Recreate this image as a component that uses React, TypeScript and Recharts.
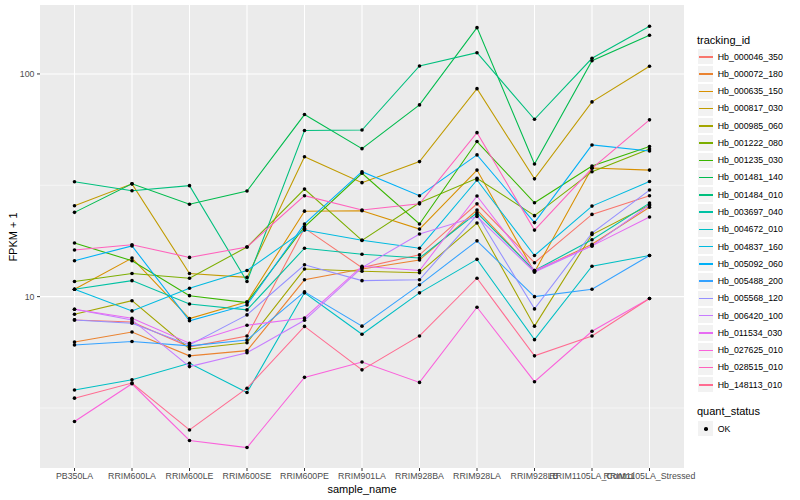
import { LineChart, Line, XAxis, YAxis, CartesianGrid } from 'recharts'

const SAMPLES = [
  'PB350LA', 'RRIM600LA', 'RRIM600LE', 'RRIM600SE', 'RRIM600PE', 'RRIM901LA',
  'RRIM928BA', 'RRIM928LA', 'RRIM928LB', 'RRIM1105LA_Control', 'RRIM1105LA_Stressed',
]

const TRACKING_IDS = [
  'Hb_000046_350', 'Hb_000072_180', 'Hb_000635_150', 'Hb_000817_030', 'Hb_000985_060',
  'Hb_001222_080', 'Hb_001235_030', 'Hb_001481_140', 'Hb_001484_010', 'Hb_003697_040',
  'Hb_004672_010', 'Hb_004837_160', 'Hb_005092_060', 'Hb_005488_200', 'Hb_005568_120',
  'Hb_006420_100', 'Hb_011534_030', 'Hb_027625_010', 'Hb_028515_010', 'Hb_148113_010',
]

// FPKM + 1, one value per sample
const hb000046_350 = [7.86, 7.7, 5.95, 6.66, 20.3, 13.5, 15.4, 26.1, 14.2, 23.4, 28.4]
const hb000072_180 = [6.26, 6.94, 5.42, 5.72, 11.9, 13.3, 14.6, 24.5, 13.0, 17.2, 25.2]
const hb000635_150 = [10.8, 14.9, 7.97, 9.49, 24.2, 24.3, 20.1, 37.0, 12.9, 37.8, 37.0]
const hb000817_030 = [25.6, 32.1, 12.7, 12.2, 42.5, 32.5, 40.4, 85.9, 33.8, 74.9, 108.3]
const hb000985_060 = [8.34, 9.59, 5.82, 6.21, 13.3, 13.0, 12.8, 21.4, 7.37, 19.0, 25.8]
const hb001222_080 = [11.7, 12.7, 12.1, 16.7, 30.4, 17.9, 26.4, 34.0, 23.1, 36.4, 46.0]
const hb001235_030 = [17.4, 14.5, 10.1, 9.4, 20.6, 35.8, 21.2, 49.7, 26.4, 38.6, 47.2]
const hb001481_140 = [23.9, 32.1, 26.0, 29.8, 65.7, 46.2, 72.6, 161.4, 39.4, 114.7, 149.2]
const hb001484_010 = [32.8, 29.9, 31.5, 11.7, 55.7, 56.0, 108.6, 124.6, 62.6, 117.6, 163.7]
const hb003697_040 = [10.8, 11.8, 9.27, 8.72, 16.5, 15.5, 14.9, 23.8, 13.1, 18.0, 26.3]
const hb004672_010 = [3.81, 4.23, 5.02, 3.71, 10.4, 6.78, 10.4, 14.7, 6.41, 13.7, 15.3]
const hb004837_160 = [10.8, 8.63, 10.9, 13.1, 19.9, 17.9, 16.5, 33.4, 15.3, 25.5, 32.9]
const hb005092_060 = [14.5, 16.9, 7.79, 9.18, 21.2, 36.4, 28.4, 43.3, 21.5, 48.0, 45.1]
const hb005488_200 = [6.07, 6.29, 6.01, 6.39, 10.5, 7.37, 11.3, 17.8, 10.0, 10.8, 15.3]
const hb005568_120 = [7.86, 7.6, 6.07, 8.28, 13.9, 11.8, 11.9, 23.3, 8.81, 19.3, 30.1]
const hb006420_100 = [8.78, 7.86, 4.85, 5.6, 7.83, 13.5, 19.1, 22.9, 12.9, 16.9, 25.8]
const hb011534_030 = [8.78, 7.99, 6.18, 7.44, 8.02, 13.7, 13.1, 28.3, 13.1, 16.9, 22.8]
const hb027625_010 = [2.75, 4.06, 2.26, 2.1, 4.34, 5.09, 4.12, 8.96, 4.15, 6.99, 9.81]
const hb028515_010 = [16.2, 17.1, 15.0, 16.7, 28.4, 24.5, 26.1, 54.5, 19.9, 37.7, 62.2]
const hb148113_010 = [3.5, 4.09, 2.52, 3.88, 7.35, 4.69, 6.66, 12.1, 5.42, 6.66, 9.81]

const SERIES_VALUES = [
  hb000046_350, hb000072_180, hb000635_150, hb000817_030, hb000985_060,
  hb001222_080, hb001235_030, hb001481_140, hb001484_010, hb003697_040,
  hb004672_010, hb004837_160, hb005092_060, hb005488_200, hb005568_120,
  hb006420_100, hb011534_030, hb027625_010, hb028515_010, hb148113_010,
]

// ggplot hue palette, 20 levels
const COLORS = [
  '#F8766D', '#EA8331', '#D89000', '#C09B00', '#A3A500', '#7CAE00', '#39B600',
  '#00BB4E', '#00BF7D', '#00C1A3', '#00BFC4', '#00BAE0', '#00B0F6', '#35A2FF',
  '#9590FF', '#C77CFF', '#E76BF3', '#FA62DB', '#FF62BC', '#FF6C91',
]

const Y_TICKS = [10, 100]
const Y_MINOR = [3.1623, 31.623]
const STATUS = ['OK']

const data = SAMPLES.map((sample, i) => {
  const row: Record<string, string | number> = { sample }
  TRACKING_IDS.forEach((id, k) => {
    row[id] = SERIES_VALUES[k][i]
  })
  return row
})

const FONT = '"Liberation Sans", Arial, Helvetica, sans-serif'
const KEY = 17.28

function BlackDot(props: any) {
  const { cx, cy } = props
  if (cx == null || cy == null) return null
  return <circle cx={cx} cy={cy} r={1.8} fill="#000000" />
}

export default function App() {
  return (
    <div style={{ position: 'absolute', left: 0, top: 0, width: 800, height: 500, background: '#fff', fontFamily: FONT }}>
      <LineChart width={800} height={500} data={data} margin={{ top: 5, right: 116, bottom: 0, left: 0 }}>
        <CartesianGrid
          fill="#EBEBEB"
          fillOpacity={1}
          stroke="#FFFFFF"
          strokeWidth={1.07}
          horizontalValues={Y_TICKS}
          verticalValues={SAMPLES}
        />
        <CartesianGrid stroke="#FFFFFF" strokeWidth={0.53} horizontalValues={Y_MINOR} vertical={false} />
        <XAxis
          dataKey="sample"
          interval={0}
          padding={{ left: 34.5, right: 34.5 }}
          axisLine={false}
          tickLine={{ stroke: '#333333' }}
          tickSize={3}
          tickMargin={2}
          height={32}
          tick={{ fontSize: 8.8, fill: '#4D4D4D', fontFamily: FONT }}
        />
        <YAxis
          scale="log"
          domain={[1.7, 204]}
          allowDataOverflow
          ticks={Y_TICKS}
          width={40}
          axisLine={false}
          tickLine={{ stroke: '#333333' }}
          tickSize={3}
          tickMargin={2.5}
          tick={{ fontSize: 8.8, fill: '#4D4D4D', fontFamily: FONT }}
        />
        {TRACKING_IDS.map((id, k) => (
          <Line
            key={id}
            type="linear"
            dataKey={id}
            stroke={COLORS[k]}
            strokeWidth={1.07}
            dot={false}
            activeDot={false}
            isAnimationActive={false}
          />
        ))}
        {TRACKING_IDS.map((id) => (
          <Line
            key={id + '-pts'}
            type="linear"
            dataKey={id}
            stroke="none"
            dot={<BlackDot />}
            activeDot={false}
            legendType="none"
            isAnimationActive={false}
          />
        ))}
      </LineChart>

      {/* axis titles */}
      <div style={{ position: 'absolute', left: 362, top: 488.5, transform: 'translate(-50%, -50%)', fontSize: 11, color: '#000', whiteSpace: 'nowrap' }}>
        sample_name
      </div>
      <div style={{ position: 'absolute', left: 12.5, top: 236.5, transform: 'translate(-50%, -50%) rotate(-90deg)', fontSize: 11, color: '#000', whiteSpace: 'nowrap' }}>
        FPKM + 1
      </div>

      {/* colour legend */}
      <div style={{ position: 'absolute', left: 697, top: 33, fontSize: 11, lineHeight: '14px', color: '#000' }}>tracking_id</div>
      <div style={{ position: 'absolute', left: 697, top: 48 }}>
        {TRACKING_IDS.map((id, k) => (
          <div key={id} style={{ display: 'flex', alignItems: 'center', height: KEY }}>
            <div style={{ position: 'relative', width: KEY, height: KEY, boxSizing: 'border-box', background: '#F2F2F2', border: '0.5px solid #fff' }}>
              <div style={{ position: 'absolute', left: 0.5, right: 0.5, top: 7, height: 1.5, background: COLORS[k] }} />
            </div>
            <span style={{ marginLeft: 3.5, fontSize: 8.8, color: '#000', whiteSpace: 'nowrap' }}>{id}</span>
          </div>
        ))}
      </div>

      {/* status legend */}
      <div style={{ position: 'absolute', left: 697, top: 404, fontSize: 11, lineHeight: '14px', color: '#000' }}>quant_status</div>
      <div style={{ position: 'absolute', left: 697, top: 420 }}>
        {STATUS.map((s) => (
          <div key={s} style={{ display: 'flex', alignItems: 'center', height: KEY }}>
            <div style={{ position: 'relative', width: KEY, height: KEY, boxSizing: 'border-box', background: '#F2F2F2', border: '0.5px solid #fff' }}>
              <div style={{ position: 'absolute', left: 6.2, top: 6.2, width: 3.6, height: 3.6, borderRadius: '50%', background: '#000' }} />
            </div>
            <span style={{ marginLeft: 3.5, fontSize: 8.8, color: '#000' }}>{s}</span>
          </div>
        ))}
      </div>
    </div>
  )
}
